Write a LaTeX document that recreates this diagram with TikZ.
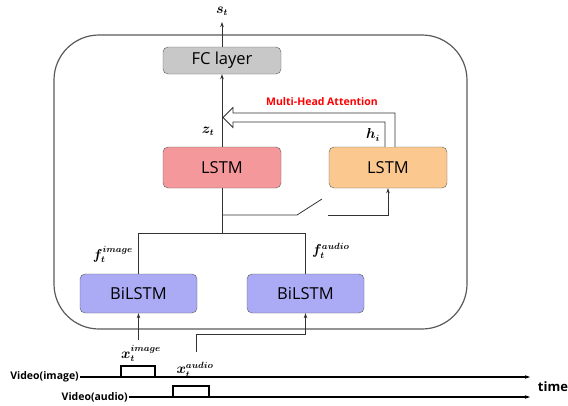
\documentclass[tikz,border=0pt]{standalone}
\usepackage{amsmath}
\usepackage{bm}
\usepackage{xcolor}
\usepackage{fontspec}
\setmainfont{Open Sans}
\usepackage{tikz}
\usetikzlibrary{calc,arrows.meta}

\definecolor{fcgray}{RGB}{200,200,200}
\definecolor{lstmred}{RGB}{245,152,155}
\definecolor{lstmorange}{RGB}{251,201,143}
\definecolor{bilblue}{RGB}{170,170,245}
\definecolor{edgegray}{RGB}{90,90,90}

\tikzset{
	block/.style={draw=edgegray,rounded corners=5pt,minimum width=118pt,minimum height=41pt,inner sep=0pt,font=\fontsize{16.5}{20}\selectfont},
	conn/.style={draw=black!80,line width=0.8pt},
	lbl/.style={font=\boldmath\fontsize{13.5}{15}\selectfont,inner sep=1pt},
	tl/.style={font=\fontsize{10.5}{12}\selectfont\bfseries}
}

\begin{document}
\begin{tikzpicture}[x=1pt,y=-1pt,>={Stealth[length=5pt,width=3.5pt]}]
				\useasboundingbox (0,0) rectangle (568,405);
				\draw[edgegray,line width=1.2pt,rounded corners=45pt] (54,35) rectangle (467,329);
				\node[block,fill=fcgray,minimum height=27pt] (fc) at (222,60.5) {FC layer};
				\node[block,fill=lstmred] (lstmz) at (222,167.5) {LSTM};
				\node[block,fill=lstmorange] (lstmh) at (388,167.5) {LSTM};
				\node[block,fill=bilblue,minimum width=117pt,minimum height=39pt] (bil) at (138.5,293.5) {BiLSTM};
				\node[block,fill=bilblue,minimum width=117pt,minimum height=39pt] (bia) at (305.5,293.5) {BiLSTM};
				\coordinate (st) at (222,22);
				\node[lbl] (stlbl) at (222,11) {$\bm{s_t}$};
				\draw[conn,->] (fc.north) -- (st);
				\draw[conn,->] (lstmz.north) -- (fc.south);
				\node[lbl] (zlbl) at (208,131) {$\bm{z_t}$};
				\node[lbl] (hlbl) at (373,135) {$\bm{h_i}$};
				% attention arrow from the right LSTM
				\coordinate (A) at ($(lstmh.north)+(-3,0)$);
				\coordinate (B) at ($(lstmh.north)+(7,0)$);
				\draw[conn,fill=white,line join=miter] (A) -- (385,122) -- (233,122) -- (233,127.5) -- (223,117.5) -- (233,107.5) -- (233,113) -- (395,113) -- (B);
				\node[font=\fontsize{10.5}{12}\selectfont\bfseries,text=red] (mha) at (322,102) {Multi-Head Attention};
				% merge of both BiLSTM outputs
				\coordinate (J1) at (222,215);
				\coordinate (J2) at (222,233);
				\draw[conn] (lstmz.south) -- (J2);
				\draw[conn] (bil.north) -- (bil.north |- J2) -- (bia.north |- J2) -- (bia.north);
				\coordinate (S1) at (297,215);
				\coordinate (S2) at (322,199);
				\coordinate (S3) at (328,215);
				\draw[conn] (J1) -- (S1) -- (S2);
				\draw[conn,->] (S3) -| (lstmh.south);
				\node[lbl,anchor=east] (fimg) at (134,254) {$\bm{f_t^{image}}$};
				\node[lbl,anchor=west] (faud) at (311,251) {$\bm{f_t^{audio}}$};
				% inputs
				\coordinate (XI) at (138.5,340);
				\coordinate (XA) at (196,352);
				\draw[conn,->] (XI) -- (bil.south);
				\draw[conn,->] (XA) -- (196,334) -| (bia.south);
				\node[lbl] (ximg) at (141,353) {$\bm{x_t^{image}}$};
				\node[lbl] (xaud) at (195,370) {$\bm{x_t^{audio}}$};
				% time lines
				\node[tl,anchor=east,inner sep=1pt] (vimg) at (80,377) {Video(image)};
				\node[tl,anchor=east,inner sep=1pt] (vaud) at (129,397) {Video(audio)};
				\coordinate (TI) at (530,377);
				\coordinate (TA) at (530,397);
				\draw[black,line width=1.3pt,->] (vimg.east) -- (TI);
				\draw[black,line width=1.3pt,->] (vaud.east) -- (TA);
				\draw[black,line width=2pt] (121,377) -- (121,365.5) -- (155,365.5) -- (155,377);
				\draw[black,line width=2pt] (173,397) -- (173,385.5) -- (209,385.5) -- (209,397);
				\node[font=\fontsize{13}{15}\selectfont\bfseries] (time) at (553,387) {time};
			\end{tikzpicture}
\end{document}
